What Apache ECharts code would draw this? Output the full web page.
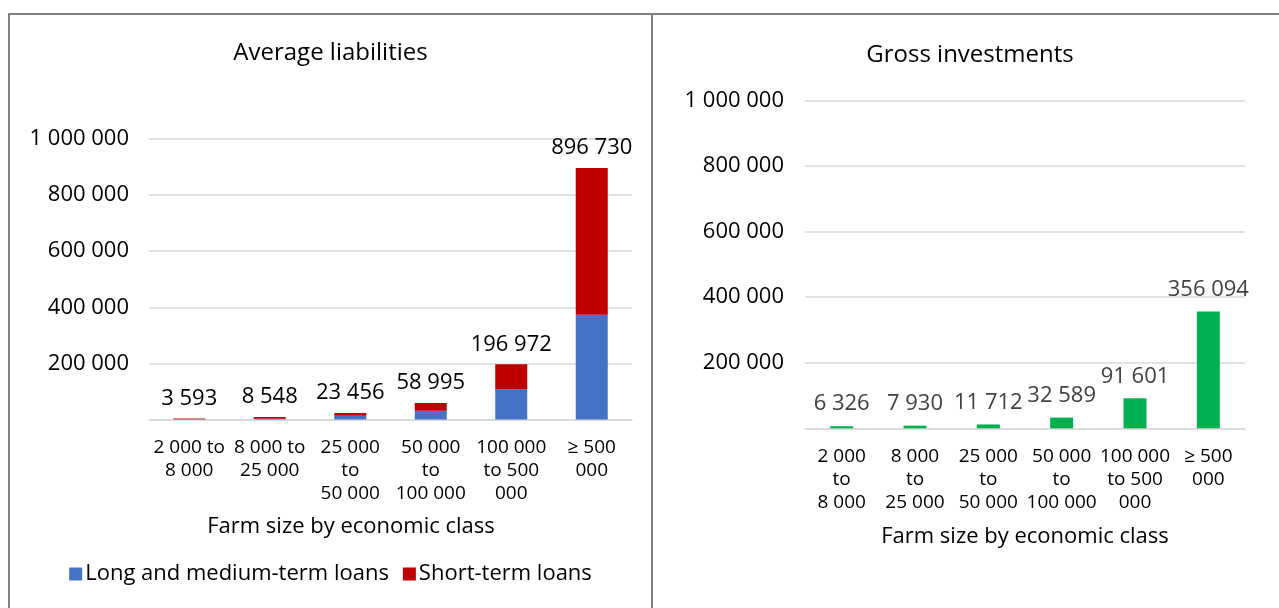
<!DOCTYPE html>
<html>
<head>
<meta charset="utf-8">
<script src="https://cdn.jsdelivr.net/npm/echarts@6/dist/echarts.min.js"></script>
<style>
  html, body { margin: 0; padding: 0; background: #fff; overflow: hidden; }
  body { width: 1279px; height: 608px; position: relative; }
  .frame { position: absolute; border-top: 2px solid #808080; border-left: 2px solid #808080; box-sizing: border-box; }
  #leftFrame { left: 8px; top: 13px; width: 644px; height: 600px; }
  #rightFrame { left: 651px; top: 13px; width: 640px; height: 600px; }
  .chart { position: absolute; }
  #liabChart { left: 10px; top: 16px; width: 641px; height: 592px; }
  #invChart { left: 653px; top: 14px; width: 634px; height: 594px; }
</style>
</head>
<body>
<div class="frame" id="leftFrame"></div>
<div class="frame" id="rightFrame"></div>
<div class="chart" id="liabChart"></div>
<div class="chart" id="invChart"></div>
<script>
// farm size classes (line breaks as in the source charts)
const liabCategories = ['2 000 to\n8 000', '8 000 to\n25 000', '25 000\nto\n50 000', '50 000\nto\n100 000', '100 000\nto 500\n000', '≥ 500\n000']
const invCategories = ['2 000\nto\n8 000', '8 000\nto\n25 000', '25 000\nto\n50 000', '50 000\nto\n100 000', '100 000\nto 500\n000', '≥ 500\n000']

// average liabilities, split
const longTermLoans = [1000, 2300, 13000, 31500, 108000, 373000]
const shortTermLoans = [2593, 6248, 10456, 27495, 88972, 523730]
const liabTotals = [3593, 8548, 23456, 58995, 196972, 896730]

// gross investments
const grossInvestments = [6326, 7930, 11712, 32589, 91601, 356094]

const FONT = '"Open Sans", "Noto Sans", sans-serif'

function fmt(v) {
  if (v === 0) return ''
  return String(v).replace(/\B(?=(\d{3})+(?!\d))/g, ' ')
}

function yAxisOpt(margin) {
  return {
    type: 'value',
    min: 0,
    max: 1000000,
    interval: 200000,
    axisLine: { show: false },
    axisTick: { show: false },
    axisLabel: { formatter: fmt, fontSize: 22, color: '#000', fontFamily: FONT, margin: margin },
    splitLine: { lineStyle: { color: '#d9d9d9', width: 1.5 } }
  }
}

function xAxisOpt(cats, nameGap, namePad) {
  return {
    type: 'category',
    data: cats,
    axisLine: { lineStyle: { color: '#d9d9d9', width: 1.5 } },
    axisTick: { show: false },
    axisLabel: { interval: 0, fontSize: 19, lineHeight: 23, color: '#000', fontFamily: FONT, margin: 17 },
    name: 'Farm size by economic class',
    nameLocation: 'middle',
    nameGap: nameGap,
    nameTextStyle: { fontSize: 22, color: '#000', fontFamily: FONT, padding: namePad }
  }
}

const liabChart = echarts.init(document.getElementById('liabChart'))
liabChart.setOption({
  animation: false,
  textStyle: { fontFamily: FONT },
  title: {
    text: 'Average liabilities',
    left: 'center',
    top: 20,
    textStyle: { fontSize: 24, fontWeight: 'normal', color: '#000', fontFamily: FONT }
  },
  legend: {
    bottom: 18,
    left: 'center',
    itemWidth: 13,
    itemHeight: 13,
    itemGap: 14,
    icon: 'rect',
    textStyle: { fontSize: 22, color: '#000', fontFamily: FONT, padding: [0, 0, 0, -2] },
    data: ['Long and medium-term loans', 'Short-term loans']
  },
  grid: { left: 139, right: 19, top: 123, bottom: 188.5 },
  xAxis: xAxisOpt(liabCategories, 96, [0, 79, 0, 0]),
  yAxis: yAxisOpt(20),
  series: [
    {
      name: 'Long and medium-term loans',
      type: 'bar',
      stack: 'liab',
      barWidth: 32,
      itemStyle: { color: '#4472c4' },
      data: longTermLoans
    },
    {
      name: 'Short-term loans',
      type: 'bar',
      stack: 'liab',
      barWidth: 32,
      itemStyle: { color: '#c00000' },
      label: {
        show: true,
        position: 'top',
        distance: 9,
        fontSize: 22,
        color: '#000',
        fontFamily: FONT,
        formatter: p => fmt(liabTotals[p.dataIndex])
      },
      data: shortTermLoans
    }
  ]
})

const invChart = echarts.init(document.getElementById('invChart'))
invChart.setOption({
  animation: false,
  textStyle: { fontFamily: FONT },
  title: {
    text: 'Gross investments',
    left: 'center',
    top: 24,
    textStyle: { fontSize: 24, fontWeight: 'normal', color: '#000', fontFamily: FONT }
  },
  grid: { left: 152, right: 42, top: 86.3, bottom: 179.7 },
  xAxis: xAxisOpt(invCategories, 97, 0),
  yAxis: yAxisOpt(21),
  series: [
    {
      name: 'Gross investments',
      type: 'bar',
      barWidth: 23,
      itemStyle: { color: '#00b050' },
      label: {
        show: true,
        position: 'top',
        distance: 11,
        fontSize: 22,
        color: '#404040',
        fontFamily: FONT,
        formatter: p => fmt(p.value)
      },
      data: grossInvestments
    }
  ]
})
</script>
</body>
</html>
